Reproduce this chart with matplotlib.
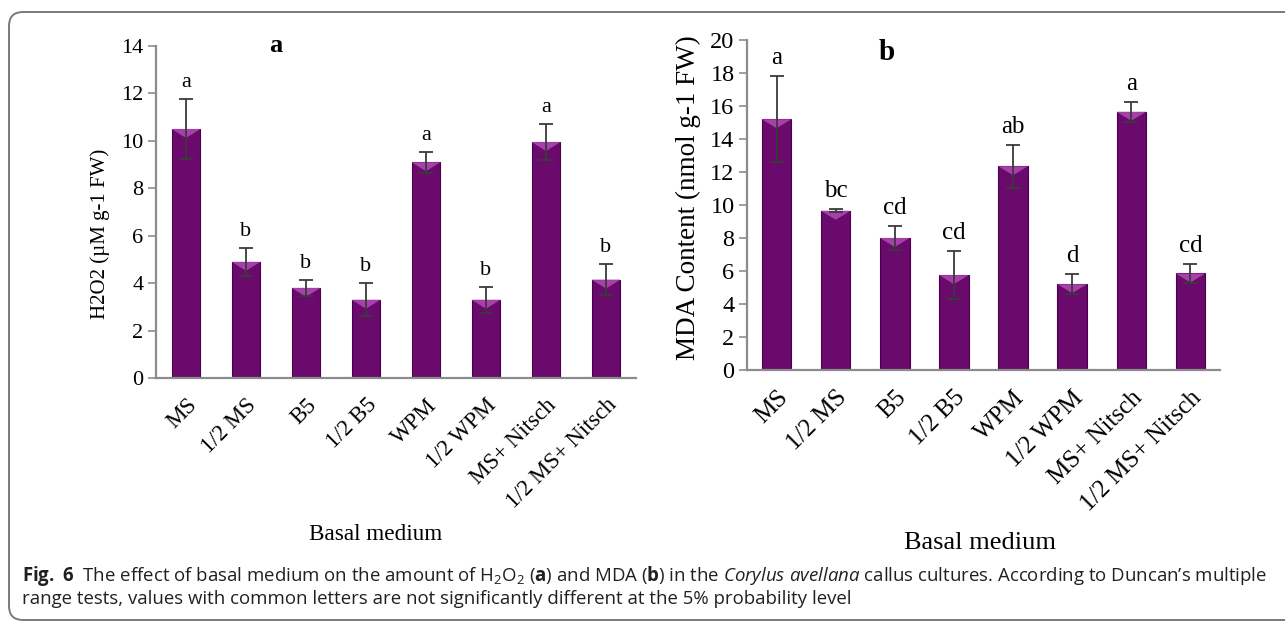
import numpy as np
import matplotlib
matplotlib.use("Agg")
import matplotlib.pyplot as plt
from matplotlib.patches import Polygon, FancyBboxPatch

# ── Data ────────────────────────────────────────────────────────────────────
media = ["MS", "1/2 MS", "B5", "1/2 B5", "WPM", "1/2 WPM",
         "MS+ Nitsch", "1/2 MS+ Nitsch"]

h2o2 = [10.5, 4.9, 3.8, 3.3, 9.1, 3.3, 9.95, 4.15]
h2o2_err = [1.25, 0.6, 0.35, 0.7, 0.45, 0.55, 0.75, 0.65]
h2o2_groups = ["a", "b", "b", "b", "a", "b", "a", "b"]

mda = [15.2, 9.65, 8.0, 5.75, 12.35, 5.2, 15.65, 5.85]
mda_err = [2.6, 0.1, 0.75, 1.45, 1.3, 0.6, 0.6, 0.6]
mda_groups = ["a", "bc", "cd", "cd", "ab", "d", "a", "cd"]

# ── Style ───────────────────────────────────────────────────────────────────
SERIF = "Liberation Serif"
CAPTION = "Open Sans"
BAR = "#6a0a6c"
BEVEL = "#b04cb4"
AXIS = "#8c8c8c"

plt.rcParams["mathtext.fontset"] = "custom"
plt.rcParams["mathtext.rm"] = "Open Sans"
plt.rcParams["mathtext.bf"] = "Open Sans:bold"
plt.rcParams["mathtext.it"] = "Open Sans:italic"

W, H = 1285, 622
fig = plt.figure(figsize=(W / 100, H / 100), dpi=100)


def px_axes(x0, x1, y_top, y_bottom):
    return fig.add_axes([x0 / W, 1 - y_bottom / H, (x1 - x0) / W, (y_bottom - y_top) / H])


def bar_panel(ax, values, errs, groups, ymax, width, ytick_size, xtick_size, letter_size):
    x = np.arange(len(values))
    ax.bar(x, values, width=width, color=BAR, edgecolor="#4a004c", linewidth=0.8,
           zorder=2)
    # bevelled top of each bar
    ax_h_px = ax.get_position().height * H
    drop = 9 * ymax / ax_h_px
    for xi, v in zip(x, values):
        tri = Polygon([(xi - width / 2, v), (xi + width / 2, v), (xi, v - drop)],
                      closed=True, facecolor=BEVEL, edgecolor="none", alpha=0.85, zorder=3)
        ax.add_patch(tri)
    ax.errorbar(x, values, yerr=errs, fmt="none", ecolor="#3a3a3a", elinewidth=1.3,
                capsize=5, capthick=1.3, zorder=4)
    for xi, v, e, g in zip(x, values, errs, groups):
        ax.annotate(g, (xi, v + e), xytext=(0, 5), textcoords="offset points",
                    ha="center", va="bottom", fontsize=letter_size, family=SERIF)

    ax.set_xlim(-0.5, len(values) - 0.5)
    ax.set_ylim(0, ymax)
    ax.set_yticks(np.arange(0, ymax + 1, 2))
    ax.set_xticks(x)
    ax.set_xticklabels(media, rotation=45, ha="right", rotation_mode="anchor",
                       family=SERIF, fontsize=xtick_size)
    for lab in ax.get_yticklabels():
        lab.set_family(SERIF)
        lab.set_fontsize(ytick_size)
    ax.tick_params(axis="x", length=0, pad=12)
    ax.tick_params(axis="y", length=6, color=AXIS, width=1.2, pad=3)
    for side in ("top", "right"):
        ax.spines[side].set_visible(False)
    for side in ("left", "bottom"):
        ax.spines[side].set_color(AXIS)
        ax.spines[side].set_linewidth(1.6)


# ── Panel a: H2O2 ──────────────────────────────────────────────────────────
ax_a = px_axes(156, 636, 46, 378)
bar_panel(ax_a, h2o2, h2o2_err, h2o2_groups, 14, 0.48, 16, 16.5, 16)
fig.text(276 / W, 1 - 46 / H, "a", family=SERIF, fontweight="bold", fontsize=19,
         ha="center", va="center")
fig.text(100 / W, 1 - 234 / H, "H2O2 (µM g-1 FW)", family=SERIF, fontsize=15,
         rotation=90, ha="center", va="center")
fig.text(376 / W, 1 - 535 / H, "Basal medium", family=SERIF, fontsize=16.7,
         ha="center", va="center")

# ── Panel b: MDA ───────────────────────────────────────────────────────────
ax_b = px_axes(747, 1220, 40, 370)
bar_panel(ax_b, mda, mda_err, mda_groups, 20, 0.5, 17.5, 18, 18)
fig.text(887 / W, 1 - 52 / H, "b", family=SERIF, fontweight="bold", fontsize=21,
         ha="center", va="center")
fig.text(688 / W, 1 - 198 / H, "MDA Content (nmol g-1 FW)", family=SERIF, fontsize=19.5,
         rotation=90, ha="center", va="center")
fig.text(980 / W, 1 - 543 / H, "Basal medium", family=SERIF, fontsize=19,
         ha="center", va="center")

# ── Frame and caption ──────────────────────────────────────────────────────
frame = FancyBboxPatch((0.09, 0.02), 13.4, 6.08, boxstyle="round,pad=0,rounding_size=0.14",
                       transform=fig.dpi_scale_trans, facecolor="none",
                       edgecolor="#7a7a7a", linewidth=1.4)
fig.patches.append(frame)

line1 = (r"$\mathbf{Fig.\ 6}$  The effect of basal medium on the amount of "
         r"H$_2$O$_2$ ($\mathbf{a}$) and MDA ($\mathbf{b}$) in the "
         r"$\mathit{Corylus\ avellana}$ callus cultures. According to Duncan’s multiple")
line2 = ("range tests, values with common letters are not significantly different "
         "at the 5% probability level")
fig.text(22 / W, 1 - 576 / H, line1, family=CAPTION, fontsize=13.4, va="center",
         color="#231f20")
fig.text(22 / W, 1 - 599 / H, line2, family=CAPTION, fontsize=13.4, va="center",
         color="#231f20")

fig.savefig("out.png", dpi=100)
